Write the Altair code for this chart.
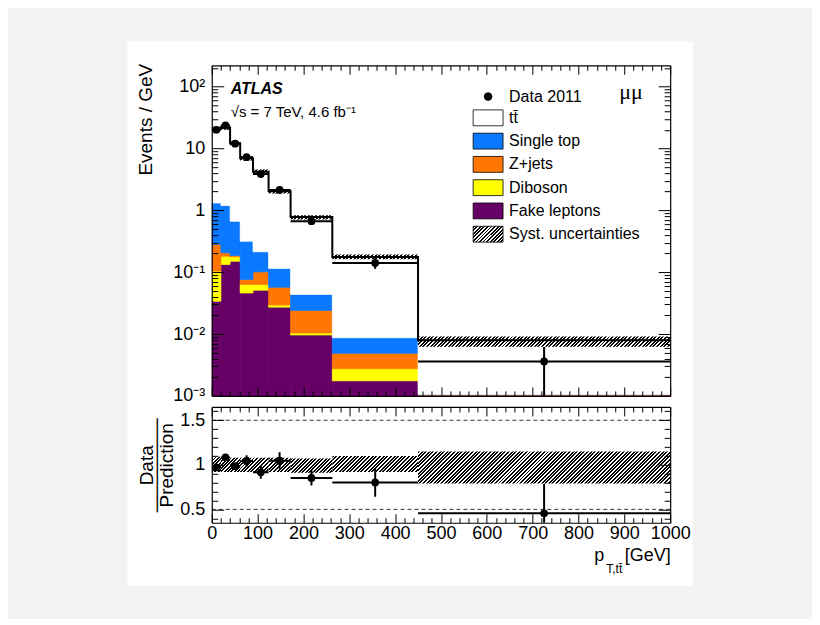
import altair as alt
import pandas as pd
import numpy as np

# ---------------- data ----------------
bin_edges = [0, 20, 40, 62, 90, 124, 172, 263, 450, 1000]
data_2011 = [20.0, 23.5, 11.9, 7.2, 3.85, 2.13, 0.665, 0.141, 0.0036]
data_relerr = [0.03, 0.03, 0.035, 0.06, 0.08, 0.09, 0.10, 0.20, 0.72]
ttbar = [19.3, 20.5, 11.4, 6.58, 3.99, 1.92, 0.736, 0.167, 0.00685]
single_top = [1.03, 0.985, 0.479, 0.240, 0.112, 0.058, 0.0196, 0.00383, 0.000005]
z_jets = [0.176, 0.024, 0.009, 0.013, 0.038, 0.0276, 0.0137, 0.00212, 0.000005]
diboson = [0.070, 0.048, 0.027, 0.017, 0.012, 0.0022, 0.00076, 0.0010, 0.000005]
fake_leptons = [0.034, 0.133, 0.150, 0.046, 0.051, 0.0272, 0.00964, 0.00175, 0.00104]
syst_up = [0.09, 0.08, 0.08, 0.08, 0.08, 0.08, 0.07, 0.10, 0.15]
syst_down = [0.08, 0.08, 0.08, 0.08, 0.08, 0.08, 0.09, 0.08, 0.21]

legend_names = ["Data 2011", "tt\u0304", "Single top", "Z+jets", "Diboson",
                "Fake leptons", "Syst. uncertainties"]
legend_colors = ["black", "white", "#0a78ff", "#ff7700", "#ffff00", "#660066"]

# ---------------- geometry / style ----------------
W, H1, H2 = 459, 331, 116
FONT = "Liberation Sans"
Y_TOP_DOM = [1e-3, 220]
Y_BOT_DOM = [0.35, 1.65]

lo = bin_edges[:-1]
hi = bin_edges[1:]
nb = len(lo)
center = [(a + b) / 2 for a, b in zip(lo, hi)]

stack_parts = [("Fake leptons", fake_leptons), ("Diboson", diboson),
               ("Z+jets", z_jets), ("Single top", single_top),
               ("tt\u0304", ttbar)]
rows = []
cum = np.zeros(nb)
for name, vals in stack_parts:
    v = np.array(vals, dtype=float)
    for i in range(nb):
        rows.append(dict(edge=name, lo=lo[i], hi=hi[i],
                         bottom=max(cum[i], 1e-5), top=cum[i] + v[i]))
    cum = cum + v
total = cum
stack_df = pd.DataFrame(rows)

bins_df = pd.DataFrame(dict(bin=list(range(nb)), lo=lo, hi=hi, center=center,
                            data=data_2011, relerr=data_relerr, total=total,
                            up=syst_up, down=syst_down))
bins_df["series"] = "Data 2011"
bins_df["data_lo"] = bins_df.data * (1 - bins_df.relerr)
bins_df["data_hi"] = bins_df.data * (1 + bins_df.relerr)
bins_df["ratio"] = bins_df.data / bins_df.total
bins_df["ratio_lo"] = bins_df.ratio * (1 - bins_df.relerr)
bins_df["ratio_hi"] = bins_df.ratio * (1 + bins_df.relerr)
bins_df["band_lo"] = bins_df.total * (1 - bins_df.down)
bins_df["band_hi"] = bins_df.total * (1 + bins_df.up)
bins_df["rband_lo"] = 1 - bins_df.down
bins_df["rband_hi"] = 1 + bins_df.up

step_df = pd.DataFrame(dict(x=list(lo) + [bin_edges[-1]],
                            y=list(total) + [total[-1]]))

X = alt.Scale(domain=[0, 1000], nice=False, zero=False)
YT = alt.Scale(type="log", domain=Y_TOP_DOM, nice=False)
YB = alt.Scale(domain=Y_BOT_DOM, nice=False, zero=False)

# ---------------- hatch (diagonal stripes) as gradients ----------------
GAP = "rgba(255,255,255,0)"


def hatch_params(w, h, period=3.6, frac=0.55):
    L = w + h
    n = max(1, int(round(L / period)))
    k = L / (w * w + h * h)
    stops = []
    for i in range(n):
        a, b, c = i / n, (i + frac) / n, (i + 1) / n
        stops += [(a, "black"), (b, "black"), (b, GAP), (c, GAP)]
    return k * w, k * h, stops


def hatch_gradient(w, h):
    x2, y2, stops = hatch_params(w, h)
    return alt.LinearGradient(
        gradient="linear", x1=0, y1=0, x2=x2, y2=y2,
        stops=[alt.GradientStop(offset=o, color=c) for o, c in stops])


def hatch_expr(w, h):
    x2, y2, stops = hatch_params(w, h, period=3.4)
    st = ",".join("{offset:%.5f,color:'%s'}" % (o, "black" if c == "black" else "white")
                  for o, c in stops)
    return "{gradient:'linear',x1:0,y1:0,x2:%.5f,y2:%.5f,stops:[%s]}" % (x2, y2, st)


px_per_dec = H1 / np.log10(Y_TOP_DOM[1] / Y_TOP_DOM[0])

# ---------------- axes ----------------
def tick_axis(orient, offset, values, test, big, small):
    return alt.Axis(orient=orient, offset=offset, values=values, labels=False,
                    ticks=True, domain=True, domainColor="black", domainWidth=1.2,
                    tickColor="black", tickWidth=1, grid=False, title=None,
                    tickSize={"condition": {"test": test, "value": big}, "value": small},
                    zindex=1)


def title_axis(text, x, y, size, align):
    return alt.Axis(orient="bottom", labels=False, ticks=False, domain=False, grid=False,
                    title=text, titleFont=FONT, titleFontSize=size,
                    titleFontWeight="normal", titleColor="black", titleAlign=align,
                    titleBaseline="alphabetic", titleX=x, titleY=y, zindex=1)


decades = [1e-3, 1e-2, 1e-1, 1.0, 10.0, 100.0]
log_ticks = [round(k * 10.0 ** d, 6) for d in range(-3, 3) for k in range(1, 10)
             if k * 10.0 ** d <= Y_TOP_DOM[1]]
log_test = "indexof([0.001,0.01,0.1,1,10,100], datum.value) >= 0"
x_ticks = list(range(0, 1001, 20))
x_test = "datum.value % 100 === 0"
r_ticks = [round(0.4 + 0.1 * i, 1) for i in range(13)]
r_test = "indexof([0.5,1,1.5], datum.value) >= 0"

ylab_top = alt.Axis(orient="left", values=decades, ticks=False, domain=False, grid=False,
                    labelExpr=("datum.value == 100 ? '10\u00b2' : datum.value == 10 ? '10' : "
                               "datum.value == 1 ? '1' : datum.value == 0.1 ? '10\u207b\u00b9' : "
                               "datum.value == 0.01 ? '10\u207b\u00b2' : '10\u207b\u00b3'"),
                    labelFont=FONT, labelFontSize=18, labelColor="black", labelPadding=7,
                    title="Events / GeV", titleFont=FONT, titleFontSize=19,
                    titleFontWeight="normal", titleColor="black", titleAngle=-90,
                    titleAlign="right", titleBaseline="alphabetic", titleX=-60.5, titleY=-2,
                    zindex=1)

ylab_bot = alt.Axis(orient="left", values=[0.5, 1, 1.5], ticks=False, domain=False, grid=False,
                    format="~g", labelFont=FONT, labelFontSize=18, labelColor="black",
                    labelPadding=7,
                    title=["Data", "\u2500" * 7, "Prediction"], titleFont=FONT,
                    titleFontSize=19, titleFontWeight="normal", titleColor="black",
                    titleAngle=-90, titleAlign="center", titleBaseline="alphabetic",
                    titleLineHeight=10, titleX=-59.5, titleY=H2 / 2, zindex=1)

xlab_bot = alt.Axis(orient="bottom", values=list(range(0, 1001, 100)), ticks=False,
                    domain=False, grid=False, labelFlush=False, format="d", labelFont=FONT,
                    labelFontSize=18, labelColor="black", labelPadding=2,
                    title="[GeV]", titleFont=FONT, titleFontSize=18,
                    titleFontWeight="normal", titleColor="black", titleAlign="right",
                    titleBaseline="alphabetic", titleX=W, titleY=38, zindex=1)

xp_bot = title_axis("p", 392.5, 38, 18, "right")
xsub_bot = title_axis("T,tt\u0304", 394.5, 50, 12, "left")

# ---------------- legend (from the data-point layer) ----------------
legend = alt.Legend(
    title=None, orient="none", legendX=266.7, legendY=21.3, padding=0,
    labelFont=FONT, labelFontSize=16, labelColor="black", labelOffset=11,
    rowPadding=3.3, symbolStrokeColor="black", symbolStrokeWidth=0.8, symbolOpacity=1,
    symbolType=alt.ExprRef(expr="datum.value === 'Data 2011' ? 'circle' : "
                                "'M-1.6,-0.85H1.6V0.85H-1.6Z'"),
    symbolSize=alt.ExprRef(expr="datum.value === 'Data 2011' ? 60 : 350"),
)
color_range = legend_colors + [alt.ExprRef(expr=hatch_expr(29.9, 15.9))]
stack_scale = alt.Scale(domain=legend_names[1:6], range=legend_colors[1:6])

# ---------------- top panel ----------------
one = pd.DataFrame({"a": [0]})
bg = alt.Chart(one).mark_rect(color="white").encode(
    x=alt.value(-84.5), x2=alt.value(481.5), y=alt.value(-24), y2=alt.value(521))

stack = alt.Chart(stack_df).mark_rect(clip=True, strokeWidth=0.7).encode(
    x=alt.X("lo:Q", scale=X, axis=None),
    x2="hi:Q",
    y=alt.Y("bottom:Q", scale=YT, axis=ylab_top),
    y2="top:Q",
    fill=alt.Fill("edge:N", scale=stack_scale, legend=None),
    stroke=alt.Stroke("edge:N", scale=stack_scale, legend=None),
)

step = alt.Chart(step_df).mark_line(interpolate="step-after", color="black",
                                    strokeWidth=2, clip=True).encode(
    x=alt.X("x:Q", scale=X, axis=tick_axis("top", -H1, x_ticks, x_test, 9, 5)),
    y=alt.Y("y:Q", scale=YT, axis=tick_axis("right", -W, log_ticks, log_test, 12, 6)),
)

top_bands = []
for i in range(nb):
    w = (hi[i] - lo[i]) * W / 1000.0
    h = px_per_dec * np.log10((1 + syst_up[i]) / (1 - syst_down[i]))
    top_bands.append(
        alt.Chart(bins_df).transform_filter(f"datum.bin == {i}")
        .mark_rect(fill=hatch_gradient(w, h), clip=True).encode(
            x=alt.X("lo:Q", scale=X, axis=None), x2="hi:Q",
            y=alt.Y("band_lo:Q", scale=YT, axis=None), y2="band_hi:Q"))

hbar_t = alt.Chart(bins_df).mark_rule(color="black", strokeWidth=2, clip=True).encode(
    x=alt.X("lo:Q", scale=X, axis=tick_axis("bottom", -H1, x_ticks, x_test, 9, 5)),
    x2="hi:Q",
    y=alt.Y("data:Q", scale=YT, axis=tick_axis("left", -W, log_ticks, log_test, 12, 6)),
)
vbar_t = alt.Chart(bins_df).mark_rule(color="black", strokeWidth=2, clip=True).encode(
    x=alt.X("center:Q", scale=X, axis=None),
    y=alt.Y("data_lo:Q", scale=YT, axis=None), y2="data_hi:Q")
pts_t = alt.Chart(bins_df).mark_point(filled=True, size=60, opacity=1,
                                      clip=True).encode(
    x=alt.X("center:Q", scale=X, axis=None),
    y=alt.Y("data:Q", scale=YT, axis=None),
    color=alt.Color("series:N", scale=alt.Scale(domain=legend_names, range=color_range),
                    legend=legend),
)

atlas = alt.Chart(pd.DataFrame({"t": ["ATLAS"]})).mark_text(
    align="left", baseline="alphabetic", font=FONT, fontSize=16, fontWeight="bold",
    fontStyle="italic", color="black").encode(x=alt.value(19), y=alt.value(29), text="t:N")
energy = alt.Chart(pd.DataFrame({"t": ["\u221as = 7 TeV, 4.6 fb\u207b\u00b9"]})).mark_text(
    align="left", baseline="alphabetic", font=FONT, fontSize=15, color="black").encode(
    x=alt.value(19), y=alt.value(52), text="t:N")
channel = alt.Chart(pd.DataFrame({"t": ["\u03bc\u03bc"]})).mark_text(
    align="left", baseline="alphabetic", font="Liberation Serif", fontSize=22,
    color="black").encode(x=alt.value(408), y=alt.value(34), text="t:N")

top = alt.layer(bg, stack, step, *top_bands, hbar_t, vbar_t, pts_t, atlas, energy,
                channel).resolve_axis(x="independent", y="independent").properties(
    width=W, height=H1)

# ---------------- ratio panel ----------------
ref_df = pd.DataFrame({"v": [1.5, 0.5]})
dashed = alt.Chart(ref_df).mark_rule(color="#333333", strokeWidth=1,
                                     strokeDash=[4, 3]).encode(
    y=alt.Y("v:Q", scale=YB, axis=ylab_bot))

bot_bands = []
for i in range(nb):
    w = (hi[i] - lo[i]) * W / 1000.0
    h = (syst_up[i] + syst_down[i]) * H2 / (Y_BOT_DOM[1] - Y_BOT_DOM[0])
    xaxis = xsub_bot if i == 0 else (xp_bot if i == 1 else None)
    bot_bands.append(
        alt.Chart(bins_df).transform_filter(f"datum.bin == {i}")
        .mark_rect(fill=hatch_gradient(w, h), clip=True).encode(
            x=alt.X("lo:Q", scale=X, axis=xaxis), x2="hi:Q",
            y=alt.Y("rband_lo:Q", scale=YB, axis=None), y2="rband_hi:Q"))

hbar_b = alt.Chart(bins_df).mark_rule(color="black", strokeWidth=2, clip=True).encode(
    x=alt.X("lo:Q", scale=X, axis=xlab_bot), x2="hi:Q",
    y=alt.Y("ratio:Q", scale=YB, axis=tick_axis("right", -W, r_ticks, r_test, 12, 6)))
vbar_b = alt.Chart(bins_df).mark_rule(color="black", strokeWidth=2, clip=True).encode(
    x=alt.X("center:Q", scale=X, axis=tick_axis("top", -H2, x_ticks, x_test, 9, 5)),
    y=alt.Y("ratio_lo:Q", scale=YB, axis=tick_axis("left", -W, r_ticks, r_test, 12, 6)),
    y2="ratio_hi:Q")
pts_b = alt.Chart(bins_df).mark_point(filled=True, size=60, color="black", opacity=1,
                                      clip=True).encode(
    x=alt.X("center:Q", scale=X, axis=tick_axis("bottom", -H2, x_ticks, x_test, 9, 5)),
    y=alt.Y("ratio:Q", scale=YB, axis=None))

bottom = alt.layer(*bot_bands, dashed, hbar_b, vbar_b, pts_b).resolve_axis(
    x="independent", y="independent").properties(width=W, height=H2)

chart = alt.vconcat(top, bottom, spacing=11, bounds="flush").properties(
    padding={"left": 119, "top": 32, "right": 119, "bottom": 32},
    background="#f3f3f3",
).configure_view(stroke="transparent")

chart.save("out.html", embed_options={"renderer": "svg", "actions": False})
